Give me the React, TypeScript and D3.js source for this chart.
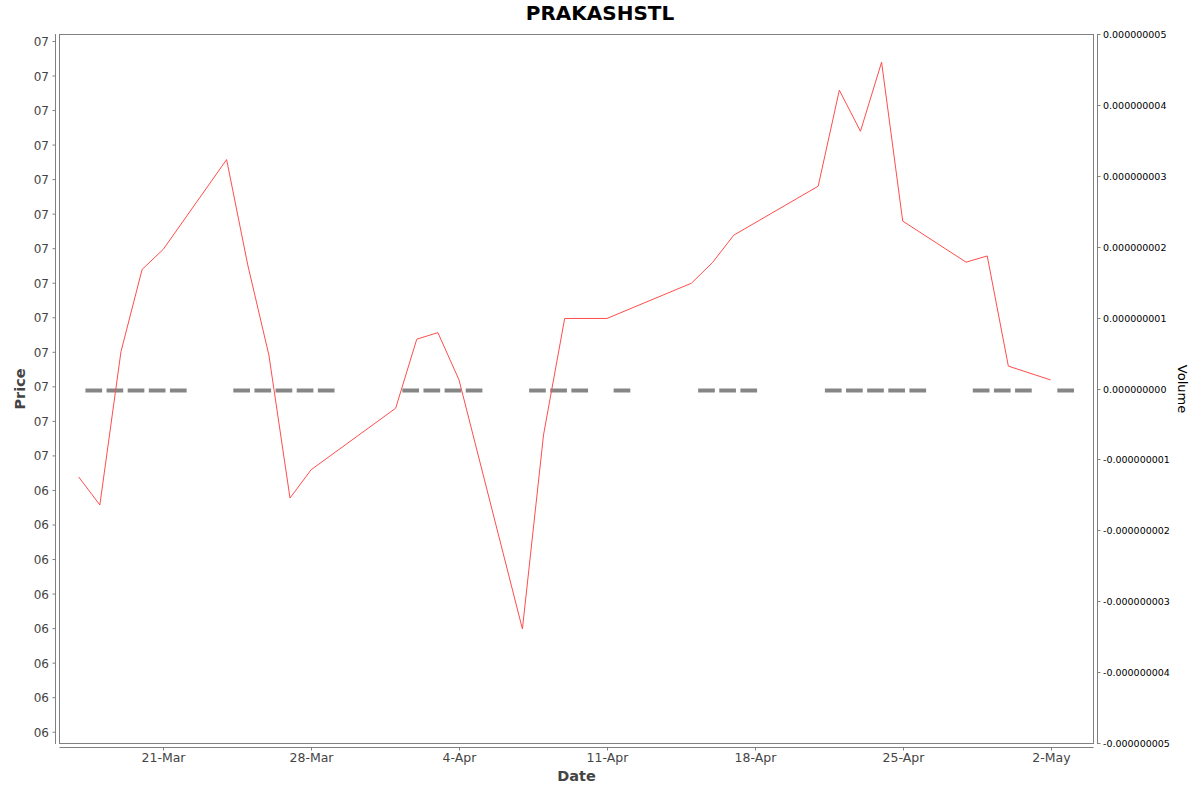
import * as d3 from 'd3';

const W = 1200;
const H = 792;
const plot = { left: 59.5, top: 34.5, right: 1093.5, bottom: 743.5 };

// trading dates as shown on the time axis
const dates = [
  '2020-03-17', '2020-03-18', '2020-03-19', '2020-03-20', '2020-03-21',
  '2020-03-24', '2020-03-25', '2020-03-26', '2020-03-27', '2020-03-28',
  '2020-04-01', '2020-04-02', '2020-04-03', '2020-04-04',
  '2020-04-07', '2020-04-08', '2020-04-09', '2020-04-11',
  '2020-04-15', '2020-04-16', '2020-04-17',
  '2020-04-21', '2020-04-22', '2020-04-23', '2020-04-24', '2020-04-25',
  '2020-04-28', '2020-04-29', '2020-04-30', '2020-05-02',
];

const prices = [
  6.9939, 6.9858, 7.0302, 7.054, 7.0598,
  7.0858, 7.0553, 7.0292, 6.9878, 6.996,
  7.0138, 7.0338, 7.0357, 7.022,
  6.9499, 7.0061, 7.0398, 7.0398,
  7.05, 7.056, 7.0639,
  7.0781, 7.1059, 7.094, 7.114, 7.068,
  7.0561, 7.0579, 7.026, 7.022,
];

const volumes = dates.map(() => 0);

const priceTicks = [
  6.92, 6.93, 6.94, 6.95, 6.96, 6.97, 6.98, 6.99,
  7.0, 7.01, 7.02, 7.03, 7.04, 7.05, 7.06, 7.07, 7.08, 7.09, 7.1, 7.11, 7.12,
];
const volumeTicks = [-5e-9, -4e-9, -3e-9, -2e-9, -1e-9, 0, 1e-9, 2e-9, 3e-9, 4e-9, 5e-9];
const dateTicks = ['2020-03-21', '2020-03-28', '2020-04-04', '2020-04-11', '2020-04-18', '2020-04-25', '2020-05-02'];

const DAY = 86400000;
const parse = (s: string) => {
  const [y, m, d] = s.split('-').map(Number);
  return new Date(Date.UTC(y, m - 1, d));
};

export default function App() {
  const x = d3
    .scaleUtc()
    .domain([+parse('2020-03-21') - 4.91 * DAY, +parse('2020-05-02') + 2.03 * DAY])
    .range([plot.left, plot.right]);
  const yPrice = d3.scaleLinear().domain([6.91673, 7.12202]).range([plot.bottom, plot.top]);
  const yVol = d3.scaleLinear().domain([-5e-9, 5e-9]).range([plot.bottom - 0.5, plot.top - 0.5]);

  const data = dates.map((d, i) => ({ date: parse(d), price: prices[i], volume: volumes[i] }));
  const line = d3
    .line<{ date: Date; price: number }>()
    .x((d) => x(d.date))
    .y((d) => yPrice(d.price));

  const fmtDate = d3.utcFormat('%-d-%b');
  const fmtPrice = (v: number) => String(Math.floor(v + 1e-9)).padStart(2, '0');
  const fmtVol = (v: number) => (Math.abs(v) < 1e-15 ? '0.000000000' : v.toFixed(9));

  const font = 'DejaVu Sans, sans-serif';
  const axisColor = '#808080';
  const labelColor = '#444';
  const axisLeftX = 55.5;
  const axisRightX = 1097.5;
  const axisBottomY = 747.5;

  return (
    <svg width={W} height={H} style={{ position: 'absolute', left: 0, top: 0 }} fontFamily={font}>
      <rect width={W} height={H} fill="#fff" />
      <text x={600} y={20} textAnchor="middle" fontSize={20} fontWeight="bold" fill="#000">
        PRAKASHSTL
      </text>

      {/* volume bars (zero-height) */}
      {data.map((d, i) => {
        const x0 = x(new Date(+d.date + 0.317 * DAY));
        const x1 = x(new Date(+d.date + 1.107 * DAY));
        const y0 = yVol(Math.max(0, d.volume));
        const y1 = yVol(Math.min(0, d.volume));
        return (
          <rect key={i} x={x0} y={y0} width={x1 - x0} height={y1 - y0 + 4} fill="#868686" />
        );
      })}

      {/* price line */}
      <path d={line(data) || ''} fill="none" stroke="#ff4d4d" strokeWidth={1} />

      {/* plot border */}
      <rect
        x={plot.left}
        y={plot.top}
        width={plot.right - plot.left}
        height={plot.bottom - plot.top}
        fill="none"
        stroke={axisColor}
      />

      {/* left price axis */}
      <line x1={axisLeftX} x2={axisLeftX} y1={plot.top - 0.5} y2={plot.bottom + 0.5} stroke={axisColor} />
      {priceTicks.map((t, i) => {
        const y = yPrice(t);
        return (
          <g key={i}>
            <line x1={axisLeftX - 3} x2={axisLeftX} y1={y} y2={y} stroke={axisColor} />
            <text x={49} y={y + 4.5} textAnchor="end" fontSize={12} fill={labelColor}>
              {fmtPrice(t)}
            </text>
          </g>
        );
      })}
      <text
        transform={`translate(25,${(plot.top + plot.bottom) / 2}) rotate(-90)`}
        textAnchor="middle"
        fontSize={14.5}
        fontWeight="bold"
        fill={labelColor}
      >
        Price
      </text>

      {/* right volume axis */}
      <line x1={axisRightX} x2={axisRightX} y1={plot.top - 0.5} y2={plot.bottom + 0.5} stroke={axisColor} />
      {volumeTicks.map((t, i) => {
        const y = Math.round(yVol(t)) + 0.5;
        return (
          <g key={i}>
            <line x1={axisRightX} x2={axisRightX + 3} y1={y} y2={y} stroke={axisColor} />
            <text x={1103} y={y + 3.5} fontSize={9.5} fill="#000">
              {fmtVol(t)}
            </text>
          </g>
        );
      })}
      <text
        transform={`translate(1178,${(plot.top + plot.bottom) / 2}) rotate(90)`}
        textAnchor="middle"
        fontSize={13}
        fill="#000"
      >
        Volume
      </text>

      {/* bottom date axis */}
      <line x1={plot.left} x2={plot.right} y1={axisBottomY} y2={axisBottomY} stroke={axisColor} />
      {dateTicks.map((s, i) => {
        const xx = Math.round(x(parse(s))) + 0.5;
        return (
          <g key={i}>
            <line x1={xx} x2={xx} y1={axisBottomY} y2={axisBottomY + 3} stroke={axisColor} />
            <text x={xx} y={762} textAnchor="middle" fontSize={12.5} fill={labelColor}>
              {fmtDate(parse(s))}
            </text>
          </g>
        );
      })}
      <text
        x={(plot.left + plot.right) / 2}
        y={781}
        textAnchor="middle"
        fontSize={14.5}
        fontWeight="bold"
        fill={labelColor}
      >
        Date
      </text>
    </svg>
  );
}
